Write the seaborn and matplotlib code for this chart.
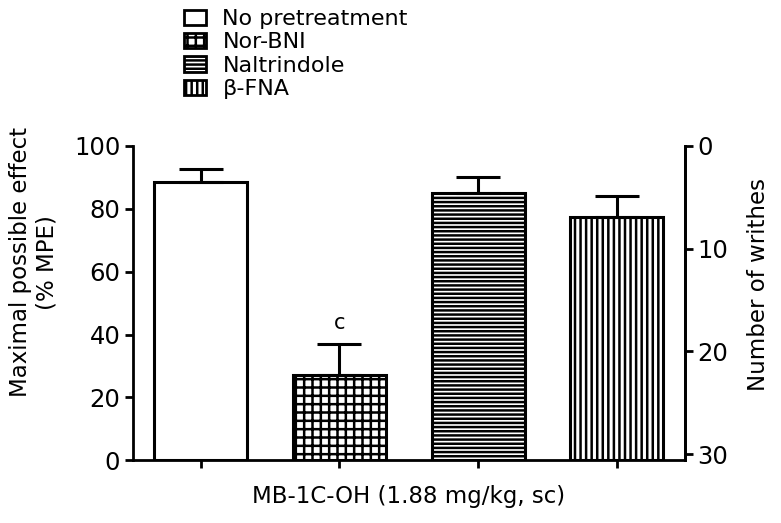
import matplotlib.pyplot as plt
import seaborn as sns
import pandas as pd
from matplotlib.patches import Patch

# dados
groups = ["No pretreatment", "Nor-BNI", "Naltrindole", "β-FNA"]
mpe_mean = [88.5, 27.0, 85.0, 77.5]
mpe_sem = [4.0, 10.0, 5.0, 6.5]
hatches = ["", "++", "----", "|||"]
right_ticks = [0, 10, 20, 30]

df = pd.DataFrame({"group": groups, "mpe": mpe_mean})

sns.set_style("ticks")
plt.rcParams["font.family"] = ["DejaVu Sans"]
plt.rcParams["hatch.linewidth"] = 1.8
plt.rcParams["axes.linewidth"] = 2.0
plt.rcParams["axes.edgecolor"] = "black"
plt.rcParams["text.color"] = "black"
plt.rcParams["axes.labelcolor"] = "black"
plt.rcParams["xtick.color"] = "black"
plt.rcParams["ytick.color"] = "black"

fig = plt.figure(figsize=(7.81, 5.23), dpi=100)
ax = fig.add_axes([0.170, 0.120, 0.707, 0.601])

sns.barplot(data=df, x="group", y="mpe", ax=ax, color="white", errorbar=None,
            width=0.67, edgecolor="black", linewidth=2.2)

# hachuras em cada barra
for bar, h in zip(ax.patches, hatches):
    bar.set_hatch(h)
    bar.set_edgecolor("black")

# barra de erro so para cima
ax.errorbar(range(len(groups)), mpe_mean, yerr=[[0] * len(groups), mpe_sem],
            fmt="none", ecolor="black", elinewidth=2.2, capsize=16, capthick=2.2, zorder=1)

ax.text(1, mpe_mean[1] + mpe_sem[1] + 3.5, "c", ha="center", va="bottom", fontsize=15)

ax.set_xlim(-0.49, 3.49)
ax.set_ylim(0, 100)
ax.set_yticks(range(0, 101, 20))
ax.set_xticklabels([])
ax.set_xlabel("MB-1C-OH (1.88 mg/kg, sc)", fontsize=16.5, labelpad=8)
ax.set_ylabel("Maximal possible effect\n(% MPE)", fontsize=16.5)
ax.yaxis.set_label_coords(-0.135, 0.63)
ax.tick_params(axis="y", labelsize=17.5, width=2, length=6, pad=3)
ax.tick_params(axis="x", width=2, length=6)
ax.spines["top"].set_visible(False)

# eixo da direita invertido
ax2 = ax.twinx()
ax2.set_ylim(30.6, 0)
ax2.set_yticks(right_ticks)
ax2.tick_params(axis="y", labelsize=17.5, width=2, length=6, pad=3)
ax2.set_ylabel("Number of writhes", fontsize=16.5, rotation=90)
ax2.yaxis.set_label_coords(1.112, 0.56)
ax2.spines["top"].set_visible(False)
ax2.spines["left"].set_visible(False)
ax2.spines["bottom"].set_visible(False)

# legenda acima do grafico
handles = [Patch(facecolor="white", edgecolor="black", hatch=h, linewidth=2) for h in hatches]
fig.legend(handles=handles, labels=groups, loc="upper left", bbox_to_anchor=(0.218, 1.008),
           frameon=False, fontsize=16, handlelength=1.0, handleheight=0.7,
           labelspacing=0.15, handletextpad=0.75, borderaxespad=0.2)

fig.savefig("out.png", dpi=100)
